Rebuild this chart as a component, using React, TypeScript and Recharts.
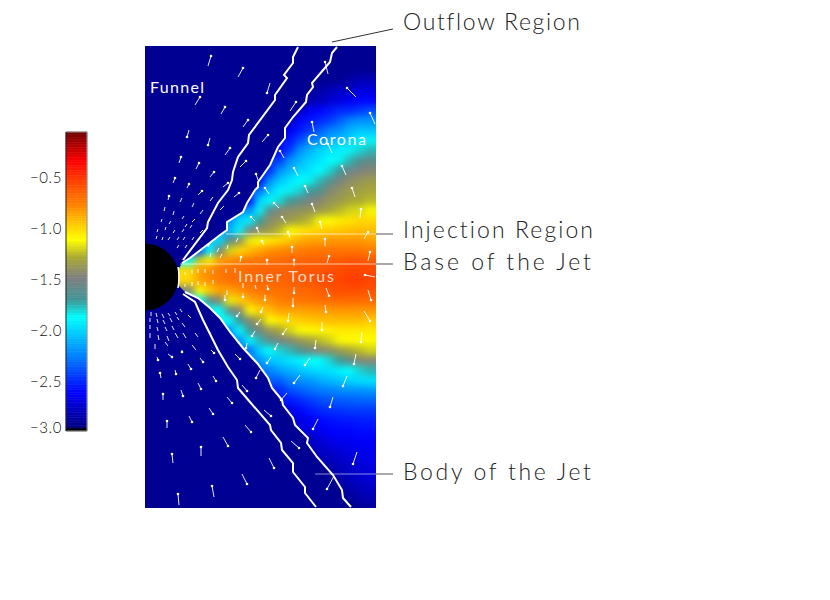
import { ReferenceArea, ReferenceLine, Scatter, ScatterChart, XAxis, YAxis } from "recharts";

// log density colour table
const colorLevels = [-0.05, -0.34, -0.55, -0.76, -0.95, -1.11, -1.28, -1.48, -1.7, -1.87, -2.25, -2.61, -2.95, -2.96, -3.0];
const colorStops = [
  [110, 0, 0], [255, 0, 0], [255, 70, 0], [255, 128, 0], [255, 200, 0], [255, 255, 0], [170, 170, 50],
  [128, 128, 128], [64, 150, 150], [0, 255, 255], [0, 128, 255], [0, 0, 255], [0, 0, 128], [0, 0, 0], [0, 0, 0],
];

const barLevels = [
  -0.05, -0.075, -0.1, -0.125, -0.15, -0.175, -0.2, -0.225, -0.25, -0.275, -0.3, -0.325, -0.35, -0.375, -0.4, -0.425,
  -0.45, -0.475, -0.5, -0.525, -0.55, -0.575, -0.6, -0.625, -0.65, -0.675, -0.7, -0.725, -0.75, -0.775, -0.8, -0.825,
  -0.85, -0.875, -0.9, -0.925, -0.95, -0.975, -1.0, -1.025, -1.05, -1.075, -1.1, -1.125, -1.15, -1.175, -1.2, -1.225,
  -1.25, -1.275, -1.3, -1.325, -1.35, -1.375, -1.4, -1.425, -1.45, -1.475, -1.5, -1.525, -1.55, -1.575, -1.6, -1.625,
  -1.65, -1.675, -1.7, -1.725, -1.75, -1.775, -1.8, -1.825, -1.85, -1.875, -1.9, -1.925, -1.95, -1.975, -2.0, -2.025,
  -2.05, -2.075, -2.1, -2.125, -2.15, -2.175, -2.2, -2.225, -2.25, -2.275, -2.3, -2.325, -2.35, -2.375, -2.4, -2.425,
  -2.45, -2.475, -2.5, -2.525, -2.55, -2.575, -2.6, -2.625, -2.65, -2.675, -2.7, -2.725, -2.75, -2.775, -2.8, -2.825,
  -2.85, -2.875, -2.9, -2.925, -2.95, -2.96, -2.98,
];
const barTicks = [-0.5, -1.0, -1.5, -2.0, -2.5, -2.95];

// density per row, top to bottom; each row is right-aligned, cells left of it are plain background
const heatFloor = -2.9;
const heatRows = [
  [],
  [],
  [-2.9, -2.9],
  [-2.9, -2.85, -2.8, -2.8],
  [-2.85, -2.8, -2.75, -2.75, -2.7, -2.7],
  [-2.85, -2.8, -2.75, -2.7, -2.65, -2.6, -2.6],
  [-2.8, -2.65, -2.6, -2.55, -2.5, -2.5, -2.45, -2.4],
  [-2.8, -2.6, -2.55, -2.5, -2.45, -2.35, -2.25, -2.2, -2.2],
  [-2.65, -2.55, -2.45, -2.35, -2.25, -2.2, -2.1, -2.05, -2.05],
  [-2.55, -2.4, -2.25, -2.2, -2.1, -2.05, -2.0, -1.9, -1.85],
  [-2.6, -2.45, -2.2, -2.1, -2.0, -1.95, -1.9, -1.85, -1.8, -1.75],
  [-2.45, -2.2, -2.1, -2.0, -1.95, -1.87, -1.85, -1.75, -1.65, -1.6],
  [-2.5, -2.2, -2.1, -2.0, -1.95, -1.87, -1.8, -1.7, -1.55, -1.5, -1.45],
  [-2.6, -2.2, -2.05, -1.95, -1.87, -1.85, -1.75, -1.65, -1.5, -1.42, -1.38, -1.35],
  [-2.3, -2.05, -1.9, -1.85, -1.8, -1.7, -1.65, -1.45, -1.4, -1.35, -1.33, -1.3],
  [-2.6, -2.0, -1.87, -1.8, -1.7, -1.6, -1.5, -1.45, -1.38, -1.35, -1.3, -1.28, -1.25],
  [-2.2, -1.85, -1.6, -1.45, -1.42, -1.4, -1.38, -1.35, -1.3, -1.25, -1.2, -1.18, -1.12],
  [-2.2, -2.0, -1.9, -1.7, -1.42, -1.38, -1.35, -1.3, -1.25, -1.12, -1.1, -1.05, -1.03, -1.0, -1.0],
  [-2.1, -1.85, -1.5, -1.4, -1.35, -1.25, -1.1, -1.05, -1.02, -0.98, -0.96, -0.95, -0.93, -0.92, -0.92],
  [-2.0, -1.6, -1.4, -1.15, -1.1, -1.05, -1.0, -0.95, -0.88, -0.85, -0.85, -0.82, -0.82, -0.82, -0.82, -0.85],
  [-2.4, -1.9, -1.5, -1.2, -1.0, -0.92, -0.85, -0.8, -0.78, -0.76, -0.75, -0.73, -0.72, -0.72, -0.72, -0.72, -0.72, -0.75],
  [-1.87, -1.2, -1.05, -0.85, -0.8, -0.75, -0.72, -0.72, -0.7, -0.68, -0.67, -0.66, -0.65, -0.65, -0.63, -0.62, -0.6, -0.6, -0.62],
  [-1.0, -0.85, -0.78, -0.72, -0.7, -0.69, -0.68, -0.66, -0.65, -0.65, -0.64, -0.62, -0.61, -0.6, -0.58, -0.57, -0.55, -0.55, -0.55],
  [-1.0, -0.85, -0.8, -0.75, -0.7, -0.69, -0.68, -0.67, -0.66, -0.65, -0.64, -0.62, -0.6, -0.58, -0.56, -0.55, -0.52, -0.52, -0.55],
  [-1.45, -1.1, -0.95, -0.85, -0.85, -0.8, -0.75, -0.72, -0.71, -0.7, -0.69, -0.68, -0.66, -0.64, -0.6, -0.58, -0.58, -0.58, -0.6],
  [-1.87, -1.6, -1.45, -1.15, -0.98, -0.88, -0.82, -0.8, -0.75, -0.73, -0.72, -0.71, -0.7, -0.69, -0.68, -0.68, -0.68, -0.68],
  [-1.87, -1.55, -1.45, -1.1, -0.98, -0.92, -0.85, -0.85, -0.85, -0.84, -0.83, -0.83, -0.82, -0.82, -0.82, -0.82],
  [-1.87, -1.7, -1.45, -1.3, -1.1, -1.05, -1.0, -0.97, -0.95, -0.93, -0.92, -0.92, -0.92, -0.92, -0.95],
  [-2.2, -1.87, -1.7, -1.5, -1.38, -1.3, -1.2, -1.12, -1.1, -1.08, -1.07, -1.05, -1.05, -1.05, -1.05],
  [-2.2, -1.87, -1.75, -1.6, -1.5, -1.45, -1.38, -1.32, -1.25, -1.2, -1.12, -1.1, -1.1, -1.1],
  [-2.3, -2.0, -1.87, -1.8, -1.75, -1.65, -1.55, -1.45, -1.43, -1.35, -1.3, -1.25, -1.2],
  [-2.2, -2.05, -2.0, -1.95, -1.9, -1.87, -1.87, -1.8, -1.7, -1.6, -1.45, -1.45],
  [-2.25, -2.15, -2.1, -2.05, -2.0, -1.97, -1.95, -1.9, -1.87, -1.8, -1.75],
  [-2.35, -2.25, -2.2, -2.18, -2.12, -2.08, -2.05, -2.0, -1.97, -1.95],
  [-2.5, -2.4, -2.35, -2.3, -2.27, -2.25, -2.22, -2.2, -2.2, -2.18],
  [-2.55, -2.5, -2.45, -2.4, -2.38, -2.35, -2.35, -2.33, -2.33],
  [-2.7, -2.6, -2.55, -2.5, -2.48, -2.47, -2.45, -2.45, -2.45],
  [-2.7, -2.62, -2.6, -2.57, -2.55, -2.55, -2.53, -2.53],
  [-2.7, -2.65, -2.62, -2.6, -2.6, -2.58, -2.58],
  [-2.8, -2.72, -2.68, -2.65, -2.65, -2.62, -2.62],
  [-2.78, -2.75, -2.72, -2.68, -2.66, -2.65],
  [-2.8, -2.76, -2.73, -2.7, -2.68],
  [-2.85, -2.8, -2.76, -2.73, -2.7],
  [-2.85, -2.8, -2.76, -2.73],
  [-2.85, -2.8, -2.78],
  [-2.9, -2.85, -2.83],
];

// jet boundaries, x then z
const upperInner = [[15.3,23.2],[14.8,22.2],[14.8,21.6],[13.9,20.4],[14.2,20.1],[13.0,18.4],[13.0,17.9],[10.4,14.4],[10.3,13.6],[9.3,12.2],[8.8,10.7],[8.7,9.9],[8.3,8.9],[7.3,7.6],[6.3,5.7],[6.2,5.1],[3.8,1.9]];
const upperOuter = [[19.2,23.2],[18.7,22.6],[18.5,21.7],[16.7,19.6],[16.8,19.2],[16.2,18.4],[16.1,17.7],[14.8,16.2],[14.0,15.1],[14.0,14.1],[13.3,13.2],[12.5,11.4],[11.8,10.4],[11.3,9.7],[11.3,9.2],[11.0,8.9],[10.2,7.6],[9.8,6.7],[8.2,5.7],[8.2,4.9],[7.5,4.4],[6.2,3.4],[4.5,2.1],[3.7,1.6]];
const lowerInner = [[3.8,-1.5],[5.0,-2.3],[5.8,-4.1],[7.3,-7.1],[8.3,-8.8],[9.2,-10.1],[9.3,-10.9],[10.5,-12.3],[12.5,-14.6],[12.6,-15.1],[13.6,-16.4],[13.7,-17.1],[14.8,-18.4],[14.8,-19.3],[16.0,-20.8],[16.0,-21.4],[17.1,-22.8]];
const lowerOuter = [[4.0,-1.3],[5.3,-1.9],[6.5,-2.9],[7.5,-3.9],[8.5,-5.3],[9.8,-6.9],[11.2,-8.4],[12.3,-9.9],[12.7,-10.9],[13.7,-12.1],[13.8,-12.6],[14.8,-13.9],[15.0,-14.6],[16.3,-15.9],[16.2,-16.4],[17.2,-17.8],[18.8,-19.6],[19.7,-21.1],[19.8,-21.9],[20.6,-22.8]];
const horizonGlow = [[3.3,1.2],[3.38,0.7],[3.4,0.2],[3.38,-0.3],[3.3,-0.9]];

// velocity arrows: tail x, tail z, head x, head z
const bigArrows = [
  [6.3,21.3,6.6,22.3],[9.3,20.2,9.8,21.1],[12.5,19.6,12.2,18.6],[5.0,17.4,5.5,18.2],[7.6,16.5,8.0,17.2],[9.8,15.2,10.3,15.9],[14.5,16.8,15.1,17.7],[18.3,20.5,18.0,21.7],[21.1,18.2,20.2,19.1],[23.0,15.5,22.5,16.6],[16.9,14.7,16.7,15.7],[18.7,12.6,18.3,13.5],[4.4,14.9,4.2,14.2],[6.5,14.1,6.3,13.4],[11.7,13.7,12.3,14.4],[8.0,12.4,8.5,13.1],[9.5,11.2,10.1,11.8],[13.9,12.1,13.5,12.8],[15.3,10.3,14.9,11.1],[20.1,10.4,19.7,11.3],[3.4,11.6,3.6,12.2],[5.1,11.0,5.4,11.6],[6.5,10.2,6.9,10.7],[2.8,9.6,3.0,10.1],[4.2,9.1,4.4,9.5],[5.3,8.4,5.7,8.8],[7.8,9.2,8.3,9.6],[8.9,8.2,9.4,8.6],[11.3,9.9,11.1,10.5],[12.4,8.5,12.0,9.1],[16.3,8.6,16.0,9.3],[21.0,8.2,20.7,9.1],[2.3,7.9,2.4,8.3],
  [21.5,6.1,21.6,7.0],[17.0,6.7,16.7,7.5],[13.4,7.1,12.9,7.6],[11.0,5.8,10.6,6.2],[14.1,5.6,13.7,6.2],[17.7,5.0,17.5,5.7],[21.9,4.0,22.3,4.7],[22.3,1.8,22.5,2.7],[18.0,3.3,18.0,4.0],[14.5,4.1,14.3,4.7],[11.4,4.6,11.2,5.1],[14.7,2.6,14.7,3.2],[11.9,3.4,11.7,3.8],[18.2,1.6,18.4,2.3],[14.9,1.3,14.9,1.9],[23.0,0.2,22.0,0.4],[12.2,1.4,12.2,1.9],[9.5,1.7,9.6,2.2],[14.9,-0.8,14.9,-1.4],[18.1,-0.9,18.4,-1.7],[22.3,-1.1,22.6,-2.1],[14.8,-1.9,14.8,-2.7],[12.0,-1.6,12.0,-2.1],[9.8,-1.4,9.8,-1.8],[12.2,-0.6,12.3,-1.0],[18.0,-2.6,18.1,-3.3],[21.9,-3.2,22.5,-4.2],[14.4,-3.4,14.3,-4.2],[11.8,-2.8,11.6,-3.3],[9.5,-3.3,9.2,-3.7],[17.7,-4.3,17.7,-5.1],[21.7,-5.3,21.6,-6.3],[11.6,-4.0,11.2,-4.5],[14.2,-4.9,13.8,-5.5],[11.0,-5.2,10.7,-5.7],[17.1,-6.1,17.0,-6.9],[13.3,-6.4,13.0,-7.0],[10.2,-6.4,10.1,-6.9],[8.0,-1.6,8.0,-2.1],
  [1.2,-7.8,1.3,-8.1],[2.3,-7.5,2.7,-7.8],[3.7,-7.1,3.7,-7.3],[6.6,-7.1,6.9,-7.4],[9.0,-7.5,9.5,-8.0],[12.6,-7.8,12.2,-8.4],[16.5,-7.9,16.0,-8.6],[21.1,-7.5,20.9,-8.5],[1.6,-9.9,1.5,-9.4],[3.0,-9.1,3.1,-9.5],[4.3,-8.5,4.6,-9.0],[5.5,-7.9,5.8,-8.3],[6.8,-9.7,7.1,-10.2],[5.3,-10.4,5.6,-11.0],[3.6,-11.1,3.8,-11.7],[1.8,-12.1,1.8,-11.5],[11.5,-9.1,11.1,-9.9],[15.5,-9.6,14.9,-10.4],[20.2,-9.7,19.8,-10.7],[9.7,-10.6,10.2,-11.2],[8.2,-11.8,8.7,-12.4],[6.4,-12.9,6.8,-13.5],[4.4,-13.7,4.7,-14.3],[2.2,-14.9,2.2,-14.2],[11.9,-13.1,12.6,-13.7],[14.2,-11.4,13.6,-12.1],[18.8,-11.8,18.5,-12.8],[17.3,-14.0,16.8,-15.0],[10.0,-14.6,10.6,-15.3],[7.8,-15.8,8.3,-16.7],[5.6,-17.7,5.6,-16.8],[2.8,-18.4,2.7,-17.5],[14.6,-16.2,15.4,-16.9],[12.4,-17.9,12.9,-18.9],[21.2,-17.3,20.8,-18.5],[9.7,-19.5,10.2,-20.5],[18.9,-19.7,18.2,-21.0],[6.9,-21.8,6.7,-20.7],[3.4,-22.6,3.3,-21.5],
];
const smallArrows = [
  [1.9,6.8,2.0,7.2],[2.8,6.4,2.9,6.8],[3.7,6.0,3.9,6.3],[4.7,7.2,4.9,7.6],[3.5,7.7,3.7,8.1],[5.5,6.5,5.8,6.9],[6.5,7.8,6.8,8.2],[7.5,6.9,7.9,7.3],[1.6,5.7,1.7,6.0],[2.4,5.5,2.6,5.8],[4.0,5.2,4.2,5.5],[4.7,5.7,5.0,6.0],[1.2,4.7,1.3,5.0],[2.0,4.9,2.1,5.2],[2.8,4.6,3.0,4.9],[3.7,4.7,3.9,5.0],[4.5,5.1,4.7,5.4],[5.5,4.6,5.8,4.9],[1.1,4.0,1.2,4.3],[1.7,3.9,1.8,4.2],[2.3,3.9,2.5,4.2],[3.2,3.9,3.4,4.2],[3.8,3.9,4.0,4.2],[4.7,3.9,4.9,4.2],[3.2,3.1,3.4,3.4],[4.0,3.1,4.2,3.4],
  [0.6,-3.3,0.6,-3.7],[1.1,-3.4,1.2,-3.8],[1.7,-3.5,1.9,-3.9],[2.3,-3.4,2.5,-3.7],[3.0,-3.3,3.2,-3.6],[3.5,-3.0,3.7,-3.3],[0.5,-3.9,0.5,-4.3],[1.2,-4.0,1.3,-4.4],[1.8,-4.1,2.0,-4.5],[2.5,-3.9,2.7,-4.3],[3.2,-3.8,3.4,-4.1],[4.3,-3.6,4.6,-3.9],[0.5,-4.6,0.5,-5.0],[1.2,-4.8,1.3,-5.2],[2.0,-4.8,2.2,-5.2],[2.7,-4.7,2.9,-5.1],[3.7,-4.4,4.0,-4.8],[0.5,-5.4,0.5,-5.9],[1.3,-5.6,1.4,-6.1],[2.2,-5.7,2.4,-6.2],[3.0,-5.4,3.3,-5.9],[3.8,-5.4,4.1,-5.9],[5.0,-5.4,5.3,-5.8],[6.3,-5.1,6.6,-5.5],[1.0,-6.5,1.0,-7.0],[2.0,-6.3,2.3,-6.7],[4.7,-6.6,5.1,-7.1],
  [4.0,0.4,4.0,0.7],[4.7,0.5,4.7,0.9],[5.3,0.6,5.3,1.0],[6.0,0.6,6.0,1.0],[6.8,0.5,6.8,0.9],[4.0,-0.5,4.0,-0.8],[4.7,-0.3,4.7,-0.7],[5.3,-0.2,5.3,-0.6],[6.0,-0.3,6.0,-0.7],[6.8,-0.1,6.8,-0.5],[8.1,0.6,8.1,1.0],[8.2,-1.1,8.2,-1.6],[9.0,0.6,9.0,1.1],[9.8,-0.4,9.8,-0.9],[11.0,-0.6,11.1,-1.0],[6.5,2.2,6.6,2.6],[7.5,2.1,7.7,2.5],[6.3,3.2,6.5,3.6],[7.2,2.7,7.4,3.1],[8.3,3.4,8.2,3.0],[9.3,4.1,9.1,3.7],
];

const calloutText = ["Outflow Region", "Injection Region", "Base of the Jet", "Body of the Jet"];
const calloutAnchorX = [25.8, 25.8, 25.8, 25.8];
const calloutBaselineZ = [24.9, 4.1, 0.9, -20.1];
const calloutWidth = [177, 190, 188, 188];
const regionText = ["Funnel", "Corona", "Inner Torus"];
const regionAnchorX = [0.5, 16.2, 9.3];
const regionBaselineZ = [18.6, 13.4, -0.3];
const regionWidth = [54, 59, 96];

const FONT = "Lato, 'Open Sans', sans-serif";

function colorFor(v: number) {
  let i = 0;
  while (i < colorLevels.length - 2 && v < colorLevels[i + 1]) i++;
  const a = colorStops[i];
  const b = colorStops[i + 1];
  const t = Math.min(1, Math.max(0, (colorLevels[i] - v) / (colorLevels[i] - colorLevels[i + 1])));
  const c = a.map((ch, k) => Math.round(ch + (b[k] - ch) * t));
  return `rgb(${c[0]},${c[1]},${c[2]})`;
}

// each row's first value also runs a few cells to the left, under the funnel mask
const heatCells = heatRows.flatMap((row, r) => {
  if (!row.length) return [];
  const padded = [row[0], row[0], row[0], ...row];
  return padded.map((value, j) => ({ x: 23 - padded.length + j + 0.5, z: 22.8 - r, value }));
});
const bandPoints = barLevels.map((level) => ({ x: 0.5, z: level }));
const arrowHeads = bigArrows.map((a) => ({ x: a[2], z: a[3] }));
const toPoints = (line: number[][]) => line.map(([x, z]) => ({ x, z }));
const funnelMask = toPoints([[0, 23.3], [19.3, 23.3], ...upperOuter, [3.3, 0.9], [3.3, -0.6], ...lowerOuter, [20.7, -22.9], [0, -22.9]]);

const pageAxes = [
  <XAxis key="x" type="number" dataKey="x" domain={[-14.5, 68.5]} hide />,
  <YAxis key="z" type="number" dataKey="z" domain={[-32.1, 27.9]} hide />,
];
const noMargin = { top: 0, right: 0, bottom: 0, left: 0 };

function HeatCell(props: any) {
  const { cx, cy, payload } = props;
  // the last column runs past the clip so the blur does not fade at the edge
  const w = payload.x > 22 ? 45 : 11;
  return <rect x={cx - 5.5} y={cy - 5.5} width={w} height={11} fill={colorFor(payload.value)} />;
}

function HeatMap() {
  return (
    <div style={{ position: "absolute", left: 145, top: 46, width: 231, height: 462, overflow: "hidden", background: colorFor(heatFloor) }}>
      <div style={{ filter: "blur(3.5px)" }}>
        <ScatterChart width={271} height={462} margin={noMargin}>
          <XAxis type="number" dataKey="x" domain={[0, 27.1]} hide />
          <YAxis type="number" dataKey="z" domain={[-22.9, 23.3]} hide />
          <Scatter data={heatCells} shape={HeatCell} isAnimationActive={false} />
        </ScatterChart>
      </div>
    </div>
  );
}

function FunnelMask() {
  return (
    <div style={{ position: "absolute", left: 0, top: 0 }}>
      <ScatterChart width={830} height={600} margin={noMargin}>
        {pageAxes}
        <Scatter data={funnelMask} line={{ stroke: "none", fill: colorFor(heatFloor) }} shape={() => null} isAnimationActive={false} />
      </ScatterChart>
    </div>
  );
}

function ColorBar() {
  return (
    <div style={{ position: "absolute", left: 0, top: 120 }}>
      <ScatterChart width={90} height={320} margin={{ top: 12, right: 3, bottom: 9, left: 0 }}>
        <XAxis type="number" dataKey="x" domain={[0, 1]} hide />
        <YAxis
          type="number"
          dataKey="z"
          width={66}
          domain={[-2.98, -0.05]}
          ticks={barTicks}
          interval={0}
          axisLine={false}
          tickLine={false}
          tickSize={0}
          tickMargin={4}
          tick={{ fontSize: 15, fill: "#111", fontFamily: FONT, fontWeight: 300, letterSpacing: 0.6 }}
          tickFormatter={(v: number) => (Math.round(v * 2) / 2).toFixed(1).replace("-", "\u2212")}
        />
        <Scatter data={bandPoints} shape={() => null} isAnimationActive={false} />
        {barLevels.slice(0, -1).map((level, i) => {
          const fill = colorFor((level + barLevels[i + 1]) / 2);
          return (
            <ReferenceArea key={level} y1={level} y2={barLevels[i + 1]} fill={fill} fillOpacity={1} stroke={fill} strokeWidth={0.6} />
          );
        })}
        <ReferenceLine y={-0.05} stroke="#999" />
        <ReferenceLine y={-2.98} stroke="#999" />
        <ReferenceLine x={1} stroke="#999" />
        <ReferenceLine x={0} stroke="#222" />
      </ScatterChart>
    </div>
  );
}

function HalfDisc(props: any) {
  const { cx, cy } = props;
  const r = 33.5;
  return <path d={`M${cx},${cy - r}A${r},${r} 0 0 1 ${cx},${cy + r}Z`} fill="#000" />;
}

function Label(props: any) {
  const { cx, cy, payload } = props;
  return (
    <text
      x={cx}
      y={cy}
      fontFamily={FONT}
      fontWeight={payload.weight}
      fontSize={payload.size}
      fill={payload.color}
      textLength={payload.width}
      lengthAdjust="spacing"
      style={{ fontVariantLigatures: "none" }}
    >
      {payload.text}
    </text>
  );
}

function Head(props: any) {
  return <circle cx={props.cx} cy={props.cy} r={1.3} fill="#fff" />;
}

const calloutLabels = calloutText.map((text, i) => ({
  x: calloutAnchorX[i], z: calloutBaselineZ[i], text, width: calloutWidth[i], size: 23, weight: 300, color: "#222",
}));
const regionLabels = regionText.map((text, i) => ({
  x: regionAnchorX[i], z: regionBaselineZ[i], text, width: regionWidth[i], size: 16, weight: 400, color: i === 2 ? "rgba(255,255,255,0.8)" : "#fff",
}));

function Overlay() {
  const seg = (x1: number, z1: number, x2: number, z2: number, stroke: string, strokeWidth = 1, key?: string) => (
    <ReferenceLine key={key} segment={[{ x: x1, y: z1 }, { x: x2, y: z2 }]} stroke={stroke} strokeWidth={strokeWidth} ifOverflow="visible" />
  );
  return (
    <div style={{ position: "absolute", left: 0, top: 0 }}>
      <ScatterChart width={830} height={600} margin={noMargin}>
        {pageAxes}
        {[...bigArrows, ...smallArrows].map((a, i) => seg(a[0], a[1], a[2], a[3], "rgba(255,255,255,0.9)", 1, `a${i}`))}
        <Scatter data={arrowHeads} shape={Head} isAnimationActive={false} />
        {[upperInner, upperOuter, lowerInner, lowerOuter].map((line, i) => (
          <Scatter
            key={i}
            data={toPoints(line)}
            line={{ stroke: "#fff", strokeWidth: 2 }}
            shape={() => null}
            isAnimationActive={false}
          />
        ))}
        <Scatter data={[{ x: 0, z: 0.2 }]} shape={HalfDisc} isAnimationActive={false} />
        <Scatter data={toPoints(horizonGlow)} line={{ stroke: "#fff", strokeWidth: 1.5 }} shape={() => null} isAnimationActive={false} />
        {seg(18.7, 23.7, 24.8, 25.0, "#333", 1, "c0")}
        {seg(8.1, 4.5, 23.1, 4.5, "rgba(255,255,255,0.65)", 1, "c1")}
        {seg(23.1, 4.5, 24.8, 4.5, "#555", 1, "c2")}
        {seg(3.5, 1.5, 23.1, 1.5, "rgba(255,255,255,0.65)", 1, "c3")}
        {seg(23.1, 1.5, 24.8, 1.5, "#555", 1, "c4")}
        {seg(17.0, -19.5, 23.1, -19.5, "rgba(255,255,255,0.55)", 1, "c5")}
        {seg(23.1, -19.5, 24.8, -19.5, "#555", 1, "c6")}
        <Scatter data={calloutLabels} shape={Label} isAnimationActive={false} />
        <Scatter data={regionLabels} shape={Label} isAnimationActive={false} />
      </ScatterChart>
    </div>
  );
}

export default function App() {
  return (
    <div style={{ position: "absolute", left: 0, top: 0, width: 830, height: 600, background: "#fff" }}>
      <ColorBar />
      <HeatMap />
      <FunnelMask />
      <Overlay />
    </div>
  );
}
